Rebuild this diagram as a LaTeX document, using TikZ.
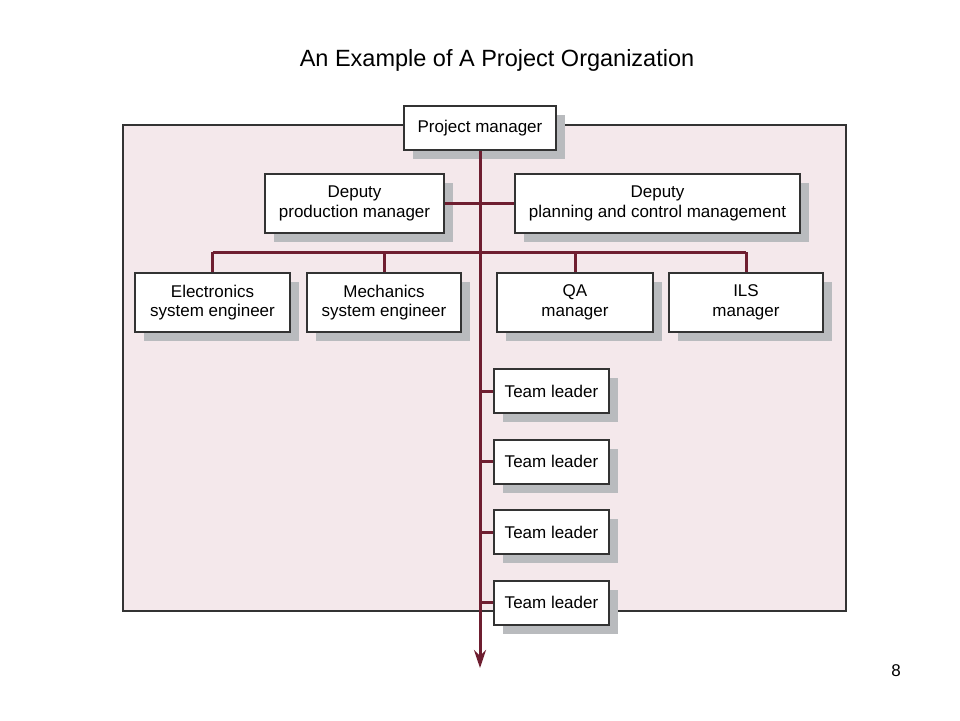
\documentclass[tikz,border=0pt]{standalone}
\usepackage{fontspec}
\setmainfont{Liberation Sans}
\usetikzlibrary{arrows.meta,shadows}
\definecolor{wine}{HTML}{6E1E30}
\definecolor{panelpink}{HTML}{F4E8EB}
\definecolor{shadowgray}{HTML}{B9BBBE}
\definecolor{edgegray}{HTML}{333333}
\tikzset{
  box/.style={draw=edgegray, line width=2pt, fill=white, align=center, inner sep=0pt,
    font=\fontsize{17}{19.5}\selectfont,
    drop shadow={shadow xshift=9pt, shadow yshift=-9pt, fill=shadowgray, opacity=1}},
  tallbox/.style={box, minimum height=59pt},
  lowbox/.style={box, minimum height=44pt},
  link/.style={draw=wine, line width=3pt}}
\begin{document}
\begin{tikzpicture}[x=1pt, y=-1pt]
  \useasboundingbox (0,0) rectangle (960,720);
  % panel behind everything
  \draw[edgegray, line width=2pt, fill=panelpink] (123,125) rectangle (846,611);
  \node[font=\fontsize{23.5}{26}\selectfont] (title) at (497,60) {An Example of A Project Organization};
  \node[font=\fontsize{17}{20}\selectfont] (pgno) at (896,671) {8};
  % boxes
  \node[lowbox, minimum width=152pt] (pm) at (480,128) {Project manager};
  \node[tallbox, minimum width=179pt] (dprod) at (354.5,203.5) {Deputy\\production manager};
  \node[tallbox, minimum width=285pt] (dplan) at (657.5,203.5) {Deputy\\planning and control management};
  \node[tallbox, minimum width=155pt] (elec) at (212.5,302.5) {Electronics\\system engineer};
  \node[tallbox, minimum width=154pt] (mech) at (384,302.5) {Mechanics\\system engineer};
  \node[tallbox, minimum width=156pt] (qa) at (575,302.5) {QA\\manager};
  \node[tallbox, minimum width=154pt] (ils) at (746,302.5) {ILS\\manager};
  \foreach \i/\y in {1/391,2/461.5,3/532,4/602.5}
    \node[lowbox, minimum width=115pt] (tl\i) at (551.5,\y) {Team leader};
  % connectors
  \coordinate (spine) at (480,668);
  \draw[link, -{Stealth[length=18pt, width=12pt]}] (pm.south) -- (spine);
  \draw[link] (dprod.east) -- (dplan.west);
  \coordinate (busL) at (elec.north |- 0,252);
  \coordinate (busR) at (ils.north |- 0,252);
  \draw[link] (busL) -- (busR);
  \foreach \n in {elec,mech,qa,ils}
    \draw[link] (\n.north |- busL) -- (\n.north);
  \foreach \i in {1,...,4}
    \draw[link] (tl\i.west -| pm.south) -- (tl\i.west);
\end{tikzpicture}
\end{document}
